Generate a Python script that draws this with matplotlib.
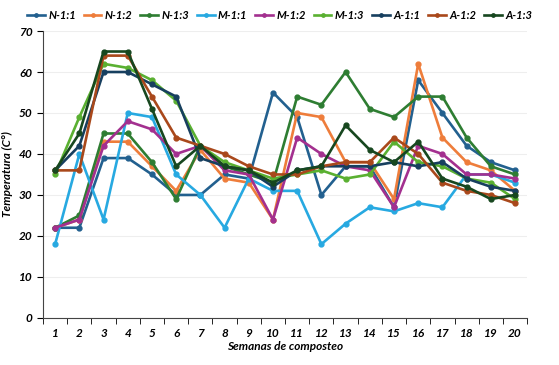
import matplotlib
matplotlib.use('Agg')
import matplotlib.pyplot as plt
from matplotlib.ticker import FixedLocator

plt.rcParams['font.family'] = ['Lato', 'DejaVu Sans']

semanas = list(range(1, 21))
etiquetas = ['N-1:1', 'N-1:2', 'N-1:3', 'M-1:1', 'M-1:2', 'M-1:3', 'A-1:1', 'A-1:2', 'A-1:3']

n_11 = [22, 22, 39, 39, 35, 30, 30, 35, 34, 55, 49, 30, 37, 37, 27, 58, 50, 42, 38, 36]
n_12 = [22, 24, 43, 43, 37, 31, 41, 34, 33, 24, 50, 49, 38, 38, 29, 62, 44, 38, 36, 31]
n_13 = [22, 25, 45, 45, 38, 29, 42, 37, 35, 33, 54, 52, 60, 51, 49, 54, 54, 44, 37, 35]
m_11 = [18, 40, 24, 50, 49, 35, 30, 22, 34, 31, 31, 18, 23, 27, 26, 28, 27, 35, 35, 33]
m_12 = [22, 24, 42, 48, 46, 40, 42, 36, 35, 24, 44, 40, 37, 36, 27, 42, 40, 35, 35, 34]
m_13 = [35, 49, 62, 61, 58, 53, 42, 38, 36, 34, 35, 36, 34, 35, 43, 38, 37, 34, 33, 29]
a_11 = [36, 42, 60, 60, 57, 54, 39, 37, 36, 32, 36, 37, 37, 37, 38, 37, 38, 34, 32, 31]
a_12 = [36, 36, 64, 64, 54, 44, 42, 40, 37, 35, 35, 37, 38, 38, 44, 40, 33, 31, 30, 28]
a_13 = [36, 45, 65, 65, 51, 37, 42, 37, 36, 33, 36, 37, 47, 41, 38, 43, 34, 32, 29, 30]

series = [n_11, n_12, n_13, m_11, m_12, m_13, a_11, a_12, a_13]
colores = ['#22608f', '#ee7d3b', '#2e7d32', '#27a9e1', '#a3308f',
           '#5ab031', '#173f5f', '#a9481b', '#17471f']

fig = plt.figure(figsize=(5.59, 3.65), dpi=100)
ax = fig.add_axes([0.077, 0.129, 0.866, 0.786])

for datos, nombre, c in zip(series, etiquetas, colores):
    ax.plot(semanas, datos, color=c, lw=1.9, marker='o', ms=3.5, label=nombre)

ax.set_xlim(0.5, 20.5)
ax.set_ylim(0, 70)
ax.set_yticks(range(0, 71, 10))
ax.set_xticks(semanas)
ax.xaxis.set_minor_locator(FixedLocator([x + 0.5 for x in range(0, 21)]))
ax.tick_params(axis='x', which='major', length=0, pad=7)
ax.tick_params(axis='x', which='minor', length=4, direction='out')
ax.tick_params(axis='y', length=4, direction='out')

for lbl in ax.get_xticklabels() + ax.get_yticklabels():
    lbl.set_fontweight('bold')
    lbl.set_fontstyle('italic')
    lbl.set_fontsize(8.5)

ax.grid(axis='y', color='#eeeeee', lw=0.8)
ax.set_axisbelow(True)
for s in ['top', 'right']:
    ax.spines[s].set_visible(False)
ax.spines['left'].set_color('#444444')
ax.spines['bottom'].set_color('#444444')

ax.set_xlabel('Semanas de composteo', fontsize=8.5, fontweight='bold', fontstyle='italic', labelpad=2)
ax.set_ylabel('Temperatura (C°)', fontsize=8.5, fontweight='bold', fontstyle='italic')

leg = fig.legend(loc='upper center', bbox_to_anchor=(0.5, 1.0), ncol=9, frameon=False,
                 prop={'weight': 'bold', 'style': 'italic', 'size': 8},
                 handlelength=1.6, handletextpad=0.3, columnspacing=0.7, markerscale=0.7)

plt.savefig('out.png', dpi=100)
